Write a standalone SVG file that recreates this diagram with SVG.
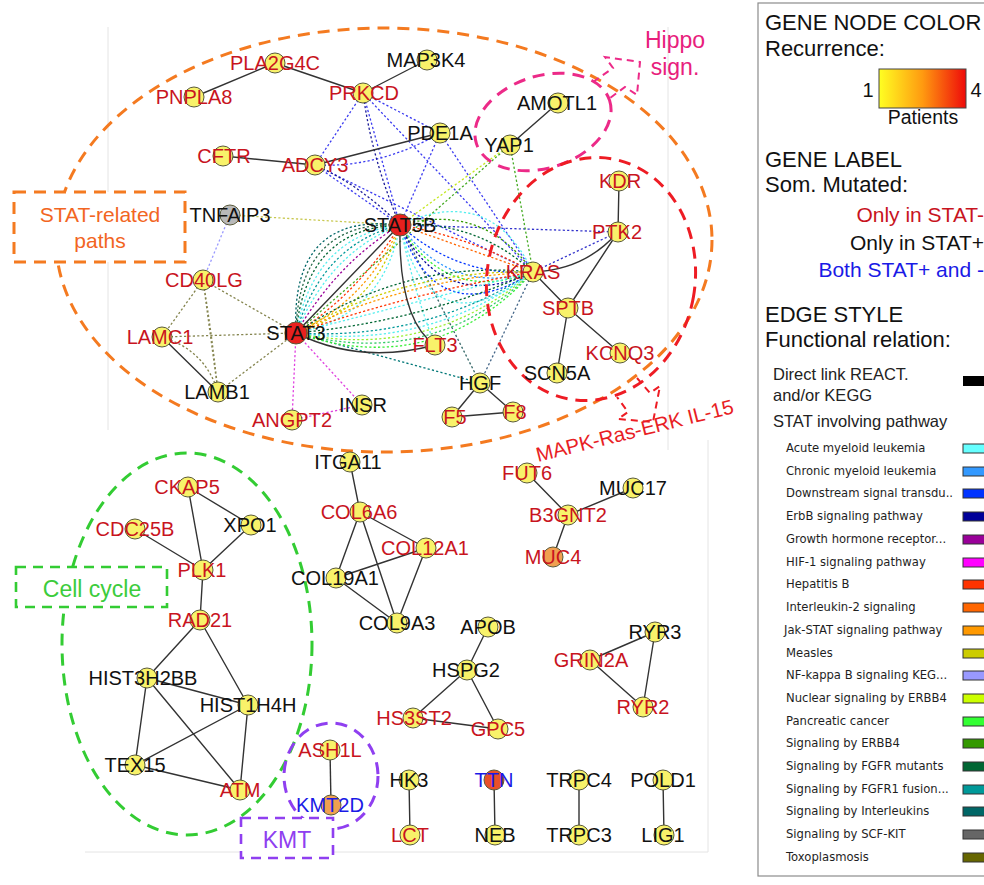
<svg xmlns="http://www.w3.org/2000/svg" width="984" height="885" viewBox="0 0 984 885">
  <defs>
    <linearGradient id="recur" x1="0" y1="0" x2="1" y2="0">
      <stop offset="0" stop-color="#ffff22"/>
      <stop offset="0.5" stop-color="#ff9a10"/>
      <stop offset="1" stop-color="#ee0a0a"/>
    </linearGradient>
    <style>
      text { font-family: "Liberation Sans", Arial, sans-serif; }
      .lab { font-size: 20px; text-anchor: middle; }
      .red { fill: #c8141e; }
      .blk { fill: #111111; }
      .blu { fill: #1a1ae6; }
      .n { stroke: #5a5a3a; stroke-width: 1; }
      .ny { fill: #f8f26a; }
      .nr { fill: #e8201e; }
      .ng { fill: #b9b9b9; }
      .no { fill: #f0a050; }
      .nt { fill: #e8502a; }
      .s { stroke: #333333; stroke-width: 1.4; fill: none; }
      .d { stroke-width: 1.3; stroke-dasharray: 2.2 2.2; fill: none; }
      .grp { fill: none; stroke-width: 3; stroke-dasharray: 12 8; }
      .panel { fill: none; stroke: #e4e4e4; stroke-width: 1; }
      .lg { font-size: 22px; fill: #111111; }
      .lm { font-size: 16.5px; fill: #222222; }
      .li { font-family: "DejaVu Sans", sans-serif; font-size: 11.6px; fill: #1e1e1e; }
      .sw { stroke: #333333; stroke-width: 1; }
    </style>
  </defs>

  <rect width="984" height="885" fill="#ffffff"/>

  <!-- faint plot panels -->
  <path class="panel" d="M108,27 V430 M668,27 V450 M85,852 H708 V440"/>

  <!-- connectors -->
  <g id="connectors">
    <!-- dotted pathway links: blue cluster -->
    <path class="d" stroke="#3b3bf0" d="M363,93 L315,165 M363,93 L440,133 M363,93 L400,225 M363,93 L533,272 M315,165 Q380,168 440,133 M315,165 L400,225 M315,165 L533,272 M440,133 L400,225 M440,133 L533,272"/>
    <path class="d" stroke="#1a1a99" d="M363,93 Q372,160 400,225 M315,165 Q360,185 400,225"/>
    <path class="d" stroke="#3333cc" d="M400,225 L618,232 M533,272 L618,232"/>
    <!-- TNFAIP3 / CD40LG / laminins -->
    <path class="d" stroke="#c8c850" d="M230,215 L400,225"/>
    <path class="d" stroke="#9999ff" d="M230,215 L203,280"/>
    <path class="d" stroke="#85854f" d="M203,280 L162,337 M203,280 L218,392 M203,280 Q212,335 218,392 M203,280 L296,333 M162,337 L296,333 M218,392 L296,333 M162,337 Q205,350 218,392"/>
    <!-- STAT3 to ANGPT2 / INSR -->
    <path class="d" stroke="#e040e0" d="M296,333 L292,420 M296,333 L362,405 M292,420 L362,405"/>
    <!-- YAP1 links -->
    <path class="d" stroke="#c4e820" d="M510,145 L400,225"/>
    <path class="d" stroke="#44aa22" d="M510,145 L296,333 M510,145 L533,272"/>
    <!-- HGF links -->
    <path class="d" stroke="#336666" d="M400,225 L480,383"/>
    <path class="d" stroke="#007777" d="M296,333 L480,383"/>
    <path class="d" stroke="#446688" d="M533,272 L480,383"/>
    <!-- STAT5B - STAT3 arcs -->
    <path class="d" stroke="#990099" d="M400,225 Q338,262 296,333"/>
    <path class="d" stroke="#55eeee" d="M400,225 Q330,252 296,333"/>
    <path class="d" stroke="#009999" d="M400,225 Q322,244 296,333"/>
    <path class="d" stroke="#55eeee" d="M400,225 Q314,236 296,333"/>
    <path class="d" stroke="#006633" d="M400,225 Q306,228 296,333"/>
    <path class="d" stroke="#2a6a4a" d="M400,225 Q298,220 296,333"/>
    <path class="d" stroke="#006666" d="M400,225 Q290,212 296,333"/>
    <path class="d" stroke="#ff3300" d="M400,225 Q360,292 296,333"/>
    <path class="d" stroke="#ff9900" d="M400,225 Q368,300 296,333"/>
    <path class="d" stroke="#cccc00" d="M400,225 Q376,308 296,333"/>
    <path class="d" stroke="#55eeee" d="M400,225 Q384,316 296,333"/>
    <path class="d" stroke="#55eeee" d="M400,225 Q414,292 435,345"/>
    <!-- STAT5B - KRAS arcs -->
    <path class="d" stroke="#55eeee" d="M400,225 Q490,183 533,272"/>
    <path class="d" stroke="#339900" d="M400,225 Q483,202 533,272"/>
    <path class="d" stroke="#006633" d="M400,225 Q476,220 533,272"/>
    <path class="d" stroke="#ff3300" d="M400,225 Q470,237 533,272"/>
    <path class="d" stroke="#ff6600" d="M400,225 L533,272"/>
    <path class="d" stroke="#0033ff" d="M400,225 Q457,277 533,272"/>
    <path class="d" stroke="#3399ff" d="M400,225 Q450,296 533,272"/>
    <path class="d" stroke="#33ee33" d="M400,225 Q446,305 533,272"/>
    <path class="d" stroke="#000099" d="M400,225 Q443,314 533,272"/>
    <path class="d" stroke="#0033ff" d="M400,225 Q437,333 533,272"/>
    <path class="d" stroke="#55eeee" d="M400,225 Q430,352 533,272"/>
    <!-- STAT3 - KRAS arcs -->
    <path class="d" stroke="#33ee33" d="M296,333 Q434,380 533,272"/>
    <path class="d" stroke="#33cc66" d="M296,333 Q432,370 533,272"/>
    <path class="d" stroke="#99ee33" d="M296,333 Q429,361 533,272"/>
    <path class="d" stroke="#55eeee" d="M296,333 Q427,351 533,272"/>
    <path class="d" stroke="#009999" d="M296,333 Q424,341 533,272"/>
    <path class="d" stroke="#006633" d="M296,333 Q419,322 533,272"/>
    <path class="d" stroke="#55eeee" d="M296,333 L533,272"/>
    <path class="d" stroke="#ff3300" d="M296,333 Q412,293 533,272"/>
    <path class="d" stroke="#ff9900" d="M296,333 Q408,278 533,272"/>
    <path class="d" stroke="#cccc00" d="M296,333 Q406,269 533,272"/>
    <path class="d" stroke="#006633" d="M296,333 Q404,259 533,272"/>

    <!-- direct links -->
    <path class="s" d="M194,97 L275,63 M275,63 L363,93 M363,93 L427,60 M223,156 L315,165 M315,165 L440,133 M558,103 L510,145 M162,337 L218,392 M296,333 L400,225 M400,225 Q398,320 435,345 M296,333 Q360,365 435,345 M619,181 L618,232 M533,272 Q585,270 618,232 M618,232 L568,308 M533,272 L568,308 M568,308 L557,373 M568,308 L620,353 M480,383 L452,417 M480,383 L513,412 M452,417 L513,412"/>
    <path class="s" d="M188,487 L203,570 M188,487 L251,525 M251,525 L203,570 M135,529 L203,570 M203,570 L200,620 M200,620 L147,678 M200,620 L248,705 M147,678 L248,705 M147,678 L135,765 M147,678 L240,790 M248,705 L135,765 M248,705 L240,790 M135,765 L240,790"/>
    <path class="s" d="M330,750 L331,805"/>
    <path class="s" d="M350,462 L360,512 M360,512 L426,548 M360,512 L336,578 M360,512 L397,623 M426,548 L336,578 M426,548 L397,623 M336,578 L397,623"/>
    <path class="s" d="M527,473 L568,515 M568,515 L633,488 M568,515 L553,557"/>
    <path class="s" d="M488,627 L467,670 M467,670 L413,718 M467,670 L498,729 M413,718 L498,729"/>
    <path class="s" d="M590,660 L655,632 M590,660 L643,707 M655,632 L643,707"/>
    <path class="s" d="M409,780 L410,835 M494,780 L495,835 M579,780 L579,835 M663,780 L664,835"/>
  </g>

  <!-- group outlines -->
  <g id="stat-related">
    <ellipse class="grp" stroke="#f47a20" cx="384" cy="240" rx="328" ry="212"/>
    <rect x="14" y="192" width="171" height="70" fill="#ffffff" stroke="#f47a20" stroke-width="3" stroke-dasharray="12 8"/>
    <text x="100" y="222" font-size="21" text-anchor="middle" fill="#f26522">STAT-related</text>
    <text x="100" y="248" font-size="21" text-anchor="middle" fill="#f26522">paths</text>
  </g>
  <g id="hippo">
    <ellipse class="grp" stroke="#ec2a88" cx="543" cy="122" rx="70" ry="46" transform="rotate(-18 543 122)"/>
    <path fill="none" stroke="#ec2a88" stroke-width="2" stroke-dasharray="7 5" d="M593,82 L613,68 L605,57 L640,62 L637,95 L625,87 L610,98"/>
    <text x="675" y="48" font-size="23" text-anchor="middle" fill="#e8207c">Hippo</text>
    <text x="675" y="75" font-size="23" text-anchor="middle" fill="#e8207c">sign.</text>
  </g>
  <g id="mapk">
    <ellipse class="grp" stroke="#ee1c24" cx="591" cy="279" rx="104" ry="122" transform="rotate(10 591 279)"/>
    <path fill="none" stroke="#ee1c24" stroke-width="2" stroke-dasharray="7 5" d="M637,378 L650,393 L660,386 L653,422 L618,419 L628,412 L617,397"/>
    <text transform="translate(538,462) rotate(-14)" font-size="20.5" fill="#e81e25">MAPK-Ras-ERK IL-15</text>
  </g>
  <g id="cell-cycle">
    <ellipse class="grp" stroke="#33cc33" stroke-width="2.6" cx="187" cy="644" rx="125" ry="191"/>
    <rect x="16" y="567" width="151" height="40" fill="#ffffff" stroke="#33cc33" stroke-width="2.6" stroke-dasharray="10 7"/>
    <text x="92" y="597" font-size="23" text-anchor="middle" fill="#3ccc3c">Cell cycle</text>
  </g>
  <g id="kmt">
    <ellipse class="grp" stroke="#8f3ff0" stroke-width="2.6" cx="331" cy="776" rx="47" ry="53"/>
    <rect x="241" y="818" width="92" height="40" fill="#ffffff" stroke="#8f3ff0" stroke-width="2.6" stroke-dasharray="10 7"/>
    <text x="287" y="848" font-size="23" text-anchor="middle" fill="#8f3ff0">KMT</text>
  </g>

  <!-- gene nodes -->
  <g id="PNPLA8"><circle class="n ny" cx="194" cy="97" r="10"/><text class="lab red" x="194" y="104">PNPLA8</text></g>
  <g id="PLA2G4C"><circle class="n ny" cx="275" cy="63" r="10"/><text class="lab red" x="275" y="70">PLA2G4C</text></g>
  <g id="PRKCD"><circle class="n ny" cx="363" cy="93" r="10"/><text class="lab red" x="364" y="100">PRKCD</text></g>
  <g id="MAP3K4"><circle class="n ny" cx="427" cy="60" r="10"/><text class="lab blk" x="426" y="67">MAP3K4</text></g>
  <g id="PDE1A"><circle class="n ny" cx="440" cy="133" r="10"/><text class="lab blk" x="440" y="140">PDE1A</text></g>
  <g id="ADCY3"><circle class="n ny" cx="315" cy="165" r="10"/><text class="lab red" x="315" y="172">ADCY3</text></g>
  <g id="CFTR"><circle class="n ny" cx="223" cy="156" r="10"/><text class="lab red" x="224" y="163">CFTR</text></g>
  <g id="AMOTL1"><circle class="n ny" cx="558" cy="103" r="10"/><text class="lab blk" x="557" y="110">AMOTL1</text></g>
  <g id="YAP1"><circle class="n ny" cx="510" cy="145" r="10"/><text class="lab blk" x="509" y="152">YAP1</text></g>
  <g id="STAT5B"><circle class="n nr" cx="400" cy="225" r="11"/><text class="lab blk" x="400" y="232">STAT5B</text></g>
  <g id="TNFAIP3"><circle class="n ng" cx="230" cy="215" r="10"/><text class="lab blk" x="230" y="222">TNFAIP3</text></g>
  <g id="CD40LG"><circle class="n ny" cx="203" cy="280" r="10"/><text class="lab red" x="204" y="287">CD40LG</text></g>
  <g id="LAMC1"><circle class="n ny" cx="162" cy="337" r="10"/><text class="lab red" x="160" y="344">LAMC1</text></g>
  <g id="LAMB1"><circle class="n ny" cx="218" cy="392" r="10"/><text class="lab blk" x="217" y="399">LAMB1</text></g>
  <g id="STAT3"><circle class="n nr" cx="296" cy="333" r="11"/><text class="lab blk" x="296" y="340">STAT3</text></g>
  <g id="ANGPT2"><circle class="n ny" cx="292" cy="420" r="10"/><text class="lab red" x="292" y="427">ANGPT2</text></g>
  <g id="INSR"><circle class="n ny" cx="362" cy="405" r="10"/><text class="lab blk" x="363" y="412">INSR</text></g>
  <g id="FLT3"><circle class="n ny" cx="435" cy="345" r="10"/><text class="lab red" x="435" y="352">FLT3</text></g>
  <g id="HGF"><circle class="n ny" cx="480" cy="383" r="10"/><text class="lab blk" x="480" y="390">HGF</text></g>
  <g id="F5"><circle class="n ny" cx="452" cy="417" r="10"/><text class="lab red" x="455" y="424">F5</text></g>
  <g id="F8"><circle class="n ny" cx="513" cy="412" r="10"/><text class="lab red" x="515" y="419">F8</text></g>
  <g id="KRAS"><circle class="n ny" cx="533" cy="272" r="10"/><text class="lab red" x="533" y="279">KRAS</text></g>
  <g id="PTK2"><circle class="n ny" cx="618" cy="232" r="10"/><text class="lab red" x="617" y="239">PTK2</text></g>
  <g id="KDR"><circle class="n ny" cx="619" cy="181" r="10"/><text class="lab red" x="620" y="188">KDR</text></g>
  <g id="SPTB"><circle class="n ny" cx="568" cy="308" r="10"/><text class="lab red" x="568" y="315">SPTB</text></g>
  <g id="KCNQ3"><circle class="n ny" cx="620" cy="353" r="10"/><text class="lab red" x="620" y="360">KCNQ3</text></g>
  <g id="SCN5A"><circle class="n ny" cx="557" cy="373" r="10"/><text class="lab blk" x="557" y="380">SCN5A</text></g>

  <g id="CKAP5"><circle class="n ny" cx="188" cy="487" r="10"/><text class="lab red" x="187" y="494">CKAP5</text></g>
  <g id="XPO1"><circle class="n ny" cx="251" cy="525" r="10"/><text class="lab blk" x="250" y="532">XPO1</text></g>
  <g id="CDC25B"><circle class="n ny" cx="135" cy="529" r="10"/><text class="lab red" x="135" y="536">CDC25B</text></g>
  <g id="PLK1"><circle class="n ny" cx="203" cy="570" r="10"/><text class="lab red" x="202" y="577">PLK1</text></g>
  <g id="RAD21"><circle class="n ny" cx="200" cy="620" r="10"/><text class="lab red" x="200" y="627">RAD21</text></g>
  <g id="HIST3H2BB"><circle class="n ny" cx="147" cy="678" r="10"/><text class="lab blk" x="143" y="685">HIST3H2BB</text></g>
  <g id="HIST1H4H"><circle class="n ny" cx="248" cy="705" r="10"/><text class="lab blk" x="248" y="712">HIST1H4H</text></g>
  <g id="TEX15"><circle class="n ny" cx="135" cy="765" r="10"/><text class="lab blk" x="135" y="772">TEX15</text></g>
  <g id="ATM"><circle class="n ny" cx="240" cy="790" r="10"/><text class="lab red" x="240" y="797">ATM</text></g>
  <g id="ASH1L"><circle class="n ny" cx="330" cy="750" r="10"/><text class="lab red" x="330" y="757">ASH1L</text></g>
  <g id="KMT2D"><circle class="n no" cx="331" cy="805" r="10"/><text class="lab blu" x="330" y="812">KMT2D</text></g>

  <g id="ITGA11"><circle class="n ny" cx="350" cy="462" r="10"/><text class="lab blk" x="348" y="469">ITGA11</text></g>
  <g id="COL6A6"><circle class="n ny" cx="360" cy="512" r="10"/><text class="lab red" x="359" y="519">COL6A6</text></g>
  <g id="COL12A1"><circle class="n ny" cx="426" cy="548" r="10"/><text class="lab red" x="425" y="555">COL12A1</text></g>
  <g id="COL19A1"><circle class="n ny" cx="336" cy="578" r="10"/><text class="lab blk" x="335" y="585">COL19A1</text></g>
  <g id="COL9A3"><circle class="n ny" cx="397" cy="623" r="10"/><text class="lab blk" x="397" y="630">COL9A3</text></g>
  <g id="FUT6"><circle class="n ny" cx="527" cy="473" r="10"/><text class="lab red" x="527" y="480">FUT6</text></g>
  <g id="B3GNT2"><circle class="n ny" cx="568" cy="515" r="10"/><text class="lab red" x="568" y="522">B3GNT2</text></g>
  <g id="MUC17"><circle class="n ny" cx="633" cy="488" r="10"/><text class="lab blk" x="633" y="495">MUC17</text></g>
  <g id="MUC4"><circle class="n no" cx="553" cy="557" r="10"/><text class="lab red" x="553" y="564">MUC4</text></g>
  <g id="APOB"><circle class="n ny" cx="488" cy="627" r="10"/><text class="lab blk" x="488" y="634">APOB</text></g>
  <g id="HSPG2"><circle class="n ny" cx="467" cy="670" r="10"/><text class="lab blk" x="466" y="677">HSPG2</text></g>
  <g id="HS3ST2"><circle class="n ny" cx="413" cy="718" r="10"/><text class="lab red" x="414" y="725">HS3ST2</text></g>
  <g id="GPC5"><circle class="n ny" cx="498" cy="729" r="10"/><text class="lab red" x="498" y="736">GPC5</text></g>
  <g id="RYR3"><circle class="n ny" cx="655" cy="632" r="10"/><text class="lab blk" x="655" y="639">RYR3</text></g>
  <g id="GRIN2A"><circle class="n ny" cx="590" cy="660" r="10"/><text class="lab red" x="591" y="667">GRIN2A</text></g>
  <g id="RYR2"><circle class="n ny" cx="643" cy="707" r="10"/><text class="lab red" x="643" y="714">RYR2</text></g>
  <g id="HK3"><circle class="n ny" cx="409" cy="780" r="10"/><text class="lab blk" x="409" y="787">HK3</text></g>
  <g id="LCT"><circle class="n ny" cx="410" cy="835" r="10"/><text class="lab red" x="410" y="842">LCT</text></g>
  <g id="TTN"><circle class="n nt" cx="494" cy="780" r="10"/><text class="lab blu" x="494" y="787">TTN</text></g>
  <g id="NEB"><circle class="n ny" cx="495" cy="835" r="10"/><text class="lab blk" x="495" y="842">NEB</text></g>
  <g id="TRPC4"><circle class="n ny" cx="579" cy="780" r="10"/><text class="lab blk" x="579" y="787">TRPC4</text></g>
  <g id="TRPC3"><circle class="n ny" cx="579" cy="835" r="10"/><text class="lab blk" x="579" y="842">TRPC3</text></g>
  <g id="POLD1"><circle class="n ny" cx="663" cy="780" r="10"/><text class="lab blk" x="663" y="787">POLD1</text></g>
  <g id="LIG1"><circle class="n ny" cx="664" cy="835" r="10"/><text class="lab blk" x="663" y="842">LIG1</text></g>

  <!-- legend -->
  <g id="legend">
    <rect x="758" y="3" width="240" height="873" fill="#ffffff" stroke="#8c8c8c" stroke-width="1.2"/>
    <text class="lg" x="765" y="30">GENE NODE COLOR</text>
    <text class="lg" x="765" y="56">Recurrence:</text>
    <text x="868" y="97" font-size="20" text-anchor="middle" fill="#111">1</text>
    <rect x="879" y="69" width="87" height="39" fill="url(#recur)" stroke="#444" stroke-width="1"/>
    <text x="976" y="97" font-size="20" text-anchor="middle" fill="#111">4</text>
    <text x="923" y="124" font-size="19.5" text-anchor="middle" fill="#111">Patients</text>
    <text class="lg" x="765" y="167">GENE LABEL</text>
    <text class="lg" x="765" y="192">Som. Mutated:</text>
    <text x="984" y="222" font-size="21" text-anchor="end" fill="#c8141e">Only in STAT-</text>
    <text x="984" y="250" font-size="21" text-anchor="end" fill="#111">Only in STAT+</text>
    <text x="984" y="277" font-size="21" text-anchor="end" fill="#1a1ae6">Both STAT+ and -</text>
    <text class="lg" x="765" y="322">EDGE STYLE</text>
    <text class="lg" x="765" y="347">Functional relation:</text>
    <text class="lm" x="773" y="380">Direct link REACT.</text>
    <text class="lm" x="773" y="401">and/or KEGG</text>
    <rect x="963" y="376" width="23" height="10" fill="#000000"/>
    <text class="lm" x="773" y="427" font-size="17.5">STAT involving pathway</text>

    <text class="li" x="786" y="452">Acute myeloid leukemia</text>
    <rect class="sw" x="963" y="444" width="22" height="9" fill="#66ffff"/>
    <text class="li" x="786" y="475">Chronic myeloid leukemia</text>
    <rect class="sw" x="963" y="467" width="22" height="9" fill="#3399ff"/>
    <text class="li" x="786" y="497">Downstream signal transdu..</text>
    <rect class="sw" x="963" y="489" width="22" height="9" fill="#0033ff"/>
    <text class="li" x="786" y="520">ErbB signaling pathway</text>
    <rect class="sw" x="963" y="512" width="22" height="9" fill="#000099"/>
    <text class="li" x="786" y="543">Growth hormone receptor...</text>
    <rect class="sw" x="963" y="535" width="22" height="9" fill="#990099"/>
    <text class="li" x="786" y="566">HIF-1 signaling pathway</text>
    <rect class="sw" x="963" y="558" width="22" height="9" fill="#ff00ff"/>
    <text class="li" x="786" y="588">Hepatitis B</text>
    <rect class="sw" x="963" y="580" width="22" height="9" fill="#ff3300"/>
    <text class="li" x="786" y="611">Interleukin-2 signaling</text>
    <rect class="sw" x="963" y="603" width="22" height="9" fill="#ff6600"/>
    <text class="li" x="784" y="634">Jak-STAT signaling pathway</text>
    <rect class="sw" x="963" y="626" width="22" height="9" fill="#ff9900"/>
    <text class="li" x="786" y="657">Measles</text>
    <rect class="sw" x="963" y="649" width="22" height="9" fill="#cccc00"/>
    <text class="li" x="786" y="679">NF-kappa B signaling KEG...</text>
    <rect class="sw" x="963" y="671" width="22" height="9" fill="#9999ff"/>
    <text class="li" x="786" y="702">Nuclear signaling by ERBB4</text>
    <rect class="sw" x="963" y="694" width="22" height="9" fill="#ccff00"/>
    <text class="li" x="786" y="725">Pancreatic cancer</text>
    <rect class="sw" x="963" y="717" width="22" height="9" fill="#33ff33"/>
    <text class="li" x="786" y="747">Signaling by ERBB4</text>
    <rect class="sw" x="963" y="739" width="22" height="9" fill="#339900"/>
    <text class="li" x="786" y="770">Signaling by FGFR mutants</text>
    <rect class="sw" x="963" y="762" width="22" height="9" fill="#006633"/>
    <text class="li" x="786" y="793">Signaling by FGFR1 fusion...</text>
    <rect class="sw" x="963" y="785" width="22" height="9" fill="#009999"/>
    <text class="li" x="786" y="815">Signaling by Interleukins</text>
    <rect class="sw" x="963" y="807" width="22" height="9" fill="#006666"/>
    <text class="li" x="786" y="838">Signaling by SCF-KIT</text>
    <rect class="sw" x="963" y="830" width="22" height="9" fill="#666666"/>
    <text class="li" x="786" y="861">Toxoplasmosis</text>
    <rect class="sw" x="963" y="853" width="22" height="9" fill="#666600"/>
  </g>
</svg>
